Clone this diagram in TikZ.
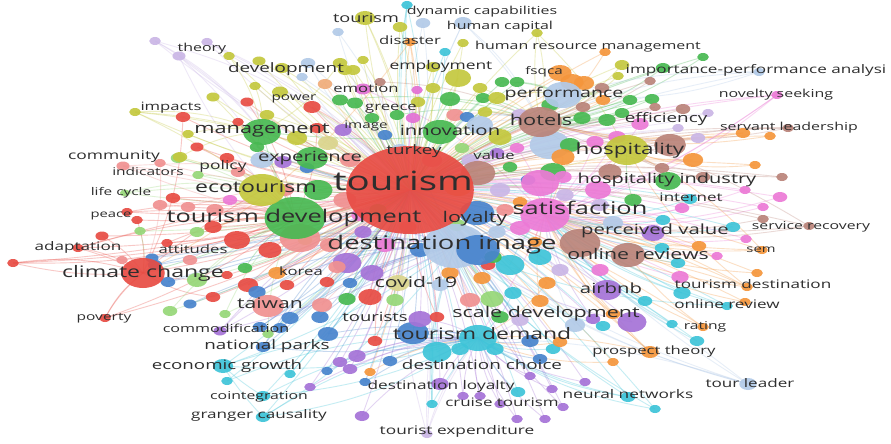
\documentclass[tikz,border=0pt]{standalone}
\usepackage{fontspec}
\setmainfont{Open Sans}
\definecolor{vr}{RGB}{232,76,68}
\definecolor{vlr}{RGB}{240,145,145}
\definecolor{vg}{RGB}{72,185,82}
\definecolor{vlg}{RGB}{150,215,120}
\definecolor{vb}{RGB}{72,132,205}
\definecolor{vlb}{RGB}{178,202,232}
\definecolor{vo}{RGB}{196,200,62}
\definecolor{vlo}{RGB}{218,212,140}
\definecolor{vp}{RGB}{165,115,215}
\definecolor{vla}{RGB}{202,182,230}
\definecolor{vc}{RGB}{62,196,216}
\definecolor{vor}{RGB}{245,150,60}
\definecolor{vbr}{RGB}{186,132,122}
\definecolor{vpk}{RGB}{236,122,214}
\definecolor{vm}{RGB}{226,112,212}
\definecolor{vpe}{RGB}{240,172,122}
\tikzset{
	lnk/.style={draw=#1, draw opacity=.3, line width=.9pt},
	bub/.style={fill=#1, fill opacity=.92},
	lbl/.style={text=black!82, inner sep=0pt, anchor=mid, xscale=1.45},
}
\newcommand\fsz[1]{\fontsize{#1}{#1}\selectfont}
\newcommand\bubdata{
	thA/155/41/4/vla/M, thB/207/42/4/vla/T, thC/179/56/4.5/vla/TD,
	b1/229/56/4/vo/M, b2/259/61/4.5/vo/T, b3/282/68/5/vo/T, b4/255/86/4/vo/M, b5/280/92/5.5/vo/T,
	b6/213/97/4.5/vo/TD, b7/247/102/4.5/vr/TD, imp/135/112/4/vo/M, b8/183/117/5/vr/CC, b9/238/122/4/vr/TD,
	b10/267/115/5/vo/T, b11/188/134/4/vo/M, b12/197/147/4.5/vr/TD, b13/308/63/5/vlb/T, b14/302/77/4/vlb/T,
	b15/325/84/5/vpe/T, b16/345/70/5/vo/T, b17/312/107/6/vr/T, b18/340/100/5.5/vg/H, b19/355/103/5.5/vg/T,
	b20/363/89/5.5/vm/S, b21/380/82/4/vbr/H, b22/297/138/7/vo/T, b23/317/128/5/vr/TD, b24/343/130/6/vp/DI,
	b25/385/135/5/vb/DI, b26/397/115/5/vg/H, b27/328/143/7/vlo/T, b28/178/158/5/vlg/TD, b29/257/147/5/vg/M,
	b30/283/162/6/vp/T, b31/307/168/5/vb/DI, b32/227/158/5/vr/TD, b33/238/172/5/vlr/TD, b34/198/175/4/vlg/EC,
	comm/123/166/4.5/vlr/TD, b36/160/163/4/vlr/CC, b37/180/157/5/vo/M, lifec/125/193/3.5/vlg/EC,
	b40/173/198/5/vr/TD, b41/160/205/5/vlr/TD, b42/188/207/5/vlr/T, peace/127/212/4/vr/TD, b43/137/220/4/vr/CC,
	b44/140/231/4/vlg/CC, b45/102/236/4.5/vr/CC, adp/78/248/4/vr/CC, adE/13/263/4/vr/CC, b46/122/260/4/vlr/CC,
	b47/167/243/4/vr/TD, b48/197/232/5/vlg/TD, b49/213/227/6/vr/TD, b50/237/240/9/vr/T, b51/270/250/8/vr/T,
	b52/152/258/4.5/vb/DI, b53/190/260/5/vlr/TD, b54/168/282/5/vb/DI, b55/197/280/7/vlg/TD, b56/245/268/5/vg/TD,
	b57/248/285/7/vr/T, b58/227/275/4/vr/CC, b59/277/273/6/vor/T, b60/287/285/5/vr/T, b61/213/297/5/vr/CC,
	pov/105/318/4/vr/CC, b63/190/304/4.5/vb/DI, b64/170/311/5/vlg/TD, b65/225/314/4/vlg/TD, commod/220/331/4.5/vp/T,
	b66/268/334/4/vlg/TD, b67/260/327/5/vb/DI, natp/263/347/5/vb/T, econ/223/366/7/vc/TDM, b68/227/381/4/vc/TDM,
	coint/263/396/5/vc/TDM, grang/263/417/5/vc/TDM, b69/290/374/4/vc/DI, b70/257/292/6/vb/DI, b71/290/318/6/vb/DI,
	b72/320/317/6/vb/DI, b74/322/305/7/vlr/T, b75/280/328/5/vb/DI, b76/155/265/5/vb/DI,
	b77/363/232/6/vp/DI, b78/347/263/10/vp/DI, b79/372/273/8/vp/DI, b80/327/282/5/vr/T, b81/370/297/8/vr/T,
	b82/337/267/6/vlr/T, b83/350/283/5/vb/DI, b84/318/190/10/vg/T, b86/305/240/5/vo/TD, b87/378/210/6/vg/T,
	b88/408/227/6/vlr/T, b89/420/250/7/vb/DI, b90/450/273/6/vor/DI, b91/482/278/6/vor/DI, b92/488/265/5/vr/T,
	b93/510/265/10/vc/S, b94/497/232/6/vlb/DI, b95/540/257/8/vc/S, b96/535/242/5/vor/S, b97/520/202/5/vor/S,
	b98/528/180/5/vb/S, b99/497/153/5/vp/T, b100/547/283/6/vor/TDM, b101/513/293/6/vc/TDM, b102/493/257/6/vg/DI,
	b103/457/225/6/vlg/DI,
	f1/350/160/7/vlr/T, f2/345/200/8/vlr/TD, f3/385/245/7/vpk/DI, f4/400/150/6/vlb/T, f5/432/160/7/vlr/T,
	f6/470/160/6/vla/H, f7/500/190/7/vla/S, f8/520/228/7/vpk/S, f9/565/195/6/vla/S, f10/505/210/6/vlr/S,
	f11/330/245/7/vlr/TD, f12/360/215/6/vpk/T, f13/440/285/6/vlb/DI, f14/470/300/7/vlr/DI, f15/520/320/6/vla/TDM,
	f16/575/325/7/vlb/S, f17/600/270/6/vpk/S, f18/560/270/6/vla/S, f19/395/300/6/vlg/T, f20/455/115/6/vlr/H,
	f21/520/115/6/vla/H, f22/600/205/6/vla/S, f23/215/210/6/vlr/TD, f24/230/200/5/vpk/TD, f25/285/190/6/vlr/EC,
	b105/347/299/6/vg/T, b107/328/334/7/vb/TDM, b108/357/356/6/vp/TDM, b109/413/333/11/vb/TDM, b110/437/352/10/vc/TDM,
	b111/420/319/8/vp/TDM, b112/437/317/5/vr/T, b113/375/341/5/vr/T, b114/492/299/8/vlg/DI, b115/500/317/6/vg/DI,
	b116/495/349/6/vc/TDM, b117/460/349/6/vc/TDM, b118/530/341/6/vb/TDM, b119/553/349/5/vc/TDM, b120/540/359/5/vb/TDM,
	b121/560/342/5/vor/TDM, b122/540/301/6/vor/S, b123/370/372/4/vor/TDM, b124/390/361/5/vb/TDM, b125/340/362/5/vp/TDM,
	b126/350/369/5/vp/TDM, b127/327/371/4/vb/TDM, b128/365/382/4/vb/TDM, b129/440/384/6/vp/TDM, b130/463/396/4/vp/TDM,
	cruise/432/404/4/vc/DI, b131/480/396/4/vp/TDM, b132/500/404/4/vp/TDM, b133/530/376/4/vp/TDM, b134/518/392/5/vc/TDM,
	b135/552/389/4/vp/TDM, b136/563/407/4/vp/DI, b137/517/419/4/vp/TDM, b138/545/419/4/vp/TDM, b139/362/416/5/vp/TDM,
	texp/427/434/4/vla/TDM, b140/310/387/4/vp/TDM, b141/585/382/4/vp/TDM, b142/593/319/5/vp/S,
	scd/632/322/10/vp/DI, b143/603/326/5/vc/DI, b144/613/314/5/vor/S, b145/645/301/5/vc/S, b146/672/324/4/vc/S,
	onrevB/727/306/4/vc/S, b147/745/302/4/vor/S, rating/703/327/4/vor/S, b148/697/341/5/vc/S, pt/650/352/6/vor/S,
	b149/613/362/4/vor/TDM, tl/748/384/6/vlb/T, nn/628/397/5/vc/TDM, nnB/655/409/4/vc/TDM,
	b150/693/160/7/vor/HO, b151/755/165/4/vor/HO, b152/782/177/4/vbr/H, b153/662/168/5/vbr/HO, b154/703/177/5/vbr/HO,
	b155/745/190/4/vpk/S, b156/780/197/5/vpk/S, b157/763/207/4/vpk/S, b158/690/199/5/vc/S, b159/633/200/6/vg/HO,
	b160/682/208/5/vpk/S, b161/663/220/5/vc/S, b162/763/219/4/vbr/S, srec/809/226/4/vbr/S, b163/733/227/5/vc/S,
	b164/746/239/4/vpk/S, b165/699/246/5/vor/S, sem/762/250/4/vor/S, b166/653/233/8/vp/S, b167/717/256/4/vpk/S,
	b168/662/248/5/vc/S, b169/678/263/5/vc/S, b170/680/277/6/vpk/S, b171/682/293/6/vc/S, b172/757/273/4/vor/S,
	tdest/747/287/4/vor/S, airb/607/290/10/vp/S, b173/613/223/7/vlb/S,
	b174/703/57/4/vg/H, b175/605/52/4/vor/H, b176/622/65/5/vo/H, b177/618/76/4/vo/H, b178/663/68/5/vg/H,
	ipa/759/72/4/vlb/P, b179/650/81/4/vbr/H, b180/602/88/5/vbr/H, nov/777/95/4/vpk/S, b181/630/100/5/vg/H,
	b182/652/99/5/vg/H, b183/603/100/5/vor/H, b184/655/107/4/vbr/H, b185/683/109/5/vbr/H, b186/708/113/4/vla/H,
	b187/622/113/5/vg/H, b188/640/124/6/vpk/S, b189/678/128/4/vla/H, b190/698/138/5/vla/H, servO/743/133/5/vor/H,
	b191/770/136/4/vor/H, serv/788/128/4/vbr/H, b192/617/137/6/vpk/S, b193/670/145/11/vbr/HO,
	dyn/407/5/4/vc/T, topT/365/18/7/vo/T, b194/400/27/5/vo/T, b195/338/32/4/vlb/T, b196/423/23/5/vlb/T,
	hcap/463/23/6/vlb/H, hrm/537/33/4/vo/H, b197/463/43/4/vo/T, b198/445/52/4/vc/T, dis/410/42/4/vor/T,
	b200/340/63/5/vo/M, b201/363/60/4/vo/T, b202/353/70/5/vo/T, b203/433/67/5/vo/T, b204/458/78/9/vo/T,
	b205/480/88/5/vo/H, b207/433/88/5/vo/T, b208/417/90/4/vm/T, b210/450/99/7/vg/H, b211/483/98/5/vg/H,
	b212/418/102/5/vo/T, b213/413/118/5/vm/T, b214/467/117/5/vb/H, b215/485/112/5/vo/H, b216/372/118/5/vg/T,
	b218/480/125/9/vlb/H, b219/500/137/8/vo/H, b220/560/73/8/vor/P, b221/572/82/8/vor/P, b222/584/83/7/vor/P,
	b224/502/82/5/vg/P, b225/517/82/5/vg/P, b226/497/98/6/vo/P, b227/583/107/5/vbr/H, b228/550/105/6/vg/H,
	b231/582/118/6/vg/H, b232/607/120/6/vg/H, b234/550/145/14/vlb/H, b235/570/145/7/vg/H, b236/595/142/6/vpk/S,
	b237/517/148/5/vpk/S, b238/563/157/8/vor/S, b239/553/172/9/vg/S, b240/478/173/12/vbr/T, b241/458/186/10/vor/T,
	b242/510/167/5/vg/T, b243/540/183/13/vpk/S, b244/610/172/8/vbr/HO, b245/598/190/9/vpk/S, b246/563/177/6/vpk/S,
	b247/462/148/5/vlg/T}

\begin{document}
\begin{tikzpicture}[x=1pt,y=-1pt]
	\useasboundingbox (0,0) rectangle (891,444);
	\fill[white] (0,0) rectangle (891,444);
	\coordinate (T) at (410,190);
	\coordinate (DI) at (455,246);
	\coordinate (TD) at (295,218);
	\coordinate (S) at (545,215);
	\coordinate (CC) at (143,273);
	\coordinate (M) at (262,132);
	\coordinate (EC) at (262,190);
	\coordinate (H) at (540,122);
	\coordinate (HO) at (627,150);
	\coordinate (P) at (563,95);
	\coordinate (TDM) at (478,338);
	\coordinate (OR) at (628,255);
	\foreach \n/\x/\y/\r/\c/\h in \bubdata {
		\coordinate (\n) at (\x,\y);
		\draw[lnk=\c] (\n) to[bend left=12] (\h);
		\draw[lnk=\c] (\n) to[bend right=8] (T);
	}
	\foreach \a/\b/\c/\bd in {
		thA/M/vla/10, thA/T/vla/15, thB/T/vla/10, thC/TD/vla/-10, thB/DI/vla/10,
		imp/TD/vo/8, imp/T/vo/10, imp/M/vo/5,
		adE/CC/vr/-8, adE/TD/vr/-10, adE/T/vr/-6, adp/CC/vr/5, adp/TD/vr/8, adp/T/vr/6,
		pov/CC/vr/10, pov/TD/vr/-8, peace/TD/vr/5, lifec/EC/vlg/5, comm/T/vlr/8, comm/TD/vlr/-5,
		econ/TDM/vc/-10, econ/DI/vc/-8, coint/TDM/vc/-10, grang/TDM/vc/-12, coint/econ/vc/5, grang/econ/vc/5,
		grang/DI/vc/-10, natp/T/vb/8, natp/TDM/vb/-8, commod/T/vp/8, commod/DI/vp/-6,
		texp/TDM/vla/8, texp/DI/vla/10, texp/T/vla/12, cruise/DI/vc/10, cruise/TDM/vc/5,
		nn/TDM/vc/10, nn/DI/vc/8, nnB/T/vc/12,
		tl/T/vlb/15, tl/DI/vlb/10, tl/S/vlb/8, tl/TDM/vlb/-8,
		rating/OR/vor/8, onrevB/S/vc/8, onrevB/DI/vc/10, pt/TDM/vor/-8, pt/S/vor/8,
		tdest/HO/vor/10, tdest/DI/vor/-10, tdest/T/vor/-12, sem/S/vor/8, sem/HO/vor/-10,
		srec/S/vbr/8, srec/H/vbr/-10, servO/H/vor/10, serv/HO/vbr/-8, serv/T/vbr/-10,
		nov/DI/vpk/10, nov/S/vpk/8, nov/T/vpk/-10, ipa/P/vlb/-8, ipa/H/vlb/-10,
		topT/T/vo/10, dyn/T/vc/-10, dyn/DI/vc/-15, hcap/H/vlb/8, hcap/T/vlb/-8, dis/T/vor/8, dis/CC/vor/12,
		hrm/H/vo/-8, hrm/HO/vo/8,
		T/DI/vr/5, T/TD/vr/5, T/S/vr/-5, T/H/vr/5, T/M/vr/-5, T/CC/vr/8, T/TDM/vr/5, DI/S/vb/5, DI/TDM/vb/-5,
		H/HO/vbr/5, H/P/vbr/5, S/HO/vpk/5, TD/CC/vg/5, M/TD/vg/-5, EC/TD/vo/5, CC/EC/vr/5, HO/T/vo/5,
		P/T/vlb/5, S/TDM/vpk/5, M/H/vg/-8}
		\draw[lnk=\c] (\a) to[bend left=\bd] (\b);
	\foreach \n/\x/\y/\r/\c/\h in \bubdata
		\fill[bub=\c] (\n) ellipse [x radius=1.45*\r, y radius=\r];
	\fill[bub=vlr] (300,238) ellipse [x radius=1.45*14, y radius=14];
	\fill[bub=vg] (TD) ellipse [x radius=1.45*21, y radius=21];
	\fill[bub=vr] (CC) ellipse [x radius=1.45*15, y radius=15];
	\fill[bub=vg] (M) ellipse [x radius=1.45*13, y radius=13];
	\fill[bub=vo] (EC) ellipse [x radius=1.45*16, y radius=16];
	\fill[bub=vlb] (262,160) ellipse [x radius=1.45*8, y radius=8];
	\fill[bub=vg] (312,158) ellipse [x radius=1.45*11, y radius=11];
	\fill[bub=vg] (440,132) ellipse [x radius=1.45*12, y radius=12];
	\fill[bub=vbr] (H) ellipse [x radius=1.45*15, y radius=15];
	\fill[bub=vlb] (P) ellipse [x radius=1.45*13, y radius=13];
	\fill[bub=vo] (HO) ellipse [x radius=1.45*15, y radius=15];
	\fill[bub=vg] (668,181) ellipse [x radius=1.45*9, y radius=9];
	\fill[bub=vpk] (S) ellipse [x radius=1.45*17, y radius=17];
	\fill[bub=vb] (477,213) ellipse [x radius=1.45*12, y radius=12];
	\fill[bub=vbr] (580,243) ellipse [x radius=1.45*14, y radius=14];
	\fill[bub=vbr] (OR) ellipse [x radius=1.45*12, y radius=12];
	\fill[bub=vlo] (398,283) ellipse [x radius=1.45*8, y radius=8];
	\fill[bub=vlr] (268,306) ellipse [x radius=1.45*11, y radius=11];
	\fill[bub=vlb] (DI) ellipse [x radius=1.45*22, y radius=22];
	\fill[bub=vb] (478,250) ellipse [x radius=1.45*15, y radius=15];
	\fill[bub=vc] (TDM) ellipse [x radius=1.45*13, y radius=13];
	\fill[bub=vr] (T) ellipse [x radius=1.45*44, y radius=44];
	\node[lbl, font=\fsz{11}] (lTheory) at (202,49) {theory};
	\node[lbl, font=\fsz{13}] (lDevelopment) at (286,70) {development};
	\node[lbl, font=\fsz{11.5}] (lImpacts) at (171,108) {impacts};
	\node[lbl, font=\fsz{10.5}] (lPower) at (294,98) {power};
	\node[lbl, font=\fsz{15}] (lManagement) at (262,131) {management};
	\node[lbl, font=\fsz{11.5}] (lEmotion) at (366,90) {emotion};
	\node[lbl, font=\fsz{11.5}] (lGreece) at (391,108) {greece};
	\node[lbl, font=\fsz{10.5}] (lImage) at (366,126) {image};
	\node[lbl, font=\fsz{14}] (lInnovation) at (450,133) {innovation};
	\node[lbl, font=\fsz{12.5}] (lTourismTop) at (366,20) {tourism};
	\node[lbl, font=\fsz{11}] (lDynamic) at (482,12) {dynamic capabilities};
	\node[lbl, font=\fsz{11}] (lHumanCap) at (500,27) {human capital};
	\node[lbl, font=\fsz{11.5}] (lDisaster) at (410,42) {disaster};
	\node[lbl, font=\fsz{11}] (lHrm) at (588,47) {human resource management};
	\node[lbl, font=\fsz{12}] (lEmployment) at (441,67) {employment};
	\node[lbl, font=\fsz{10.5}] (lFsqca) at (544,72) {fsqca};
	\node[lbl, font=\fsz{13.5}] (lPerformance) at (564,95) {performance};
	\node[lbl, font=\fsz{15}] (lHotels) at (541,123) {hotels};
	\node[lbl, font=\fsz{13}] (lEfficiency) at (666,120) {efficiency};
	\node[lbl, font=\fsz{15.5}] (lHospitality) at (630,152) {hospitality};
	\node[lbl, font=\fsz{13.8}] (lHospInd) at (667,181) {hospitality industry};
	\node[lbl, font=\fsz{11.8}] (lIpa) at (756,71) {importance-performance analysi};
	\node[lbl, font=\fsz{11}] (lNovelty) at (776,95) {novelty seeking};
	\node[lbl, font=\fsz{11}] (lServant) at (789,128) {servant leadership};
	\node[lbl, font=\fsz{11.4}] (lValue) at (494,157) {value};
	\node[lbl, font=\fsz{13}] (lTurkey) at (414,152) {turkey};
	\node[lbl, font=\fsz{14}] (lExperience) at (310,159) {experience};
	\node[lbl, font=\fsz{12}] (lPolicy) at (223,167) {policy};
	\node[lbl, font=\fsz{12}] (lCommunity) at (114,157) {community};
	\node[lbl, font=\fsz{10.7}] (lIndicators) at (148,173) {indicators};
	\node[lbl, font=\fsz{10.6}] (lLifeCycle) at (121,193) {life cycle};
	\node[lbl, font=\fsz{10.2}] (lPeace) at (111,215) {peace};
	\node[lbl, font=\fsz{11.8}] (lAdaptation) at (78,248) {adaptation};
	\node[lbl, font=\fsz{15.9}] (lEcotourism) at (256,190) {ecotourism};
	\node[lbl, font=\fsz{17.5}] (lTourDev) at (294,220) {tourism development};
	\node[lbl, font=\fsz{11.5}] (lAttitudes) at (193,251) {attitudes};
	\node[lbl, font=\fsz{15.9}] (lClimate) at (143,275) {climate change};
	\node[lbl, font=\fsz{11.5}] (lKorea) at (301,273) {korea};
	\node[lbl, font=\fsz{14.6}] (lTaiwan) at (270,306) {taiwan};
	\node[lbl, font=\fsz{11.1}] (lCommod) at (226,330) {commodification};
	\node[lbl, font=\fsz{12.7}] (lTourists) at (375,319) {tourists};
	\node[lbl, font=\fsz{14.6}] (lCovid) at (416,285) {covid-19};
	\node[lbl, font=\fsz{14.8}] (lLoyalty) at (475,220) {loyalty};
	\node[lbl, font=\fsz{18.9}] (lDestImage) at (442,247) {destination image};
	\node[lbl, font=\fsz{26.5}] (lTourism) at (403,188) {tourism};
	\node[lbl, font=\fsz{17.5}] (lSatisfaction) at (580,212) {satisfaction};
	\node[lbl, font=\fsz{14}] (lPercValue) at (655,232) {perceived value};
	\node[lbl, font=\fsz{14.7}] (lOnlineRevs) at (638,257) {online reviews};
	\node[lbl, font=\fsz{11.7}] (lInternet) at (691,199) {internet};
	\node[lbl, font=\fsz{10.9}] (lServRec) at (811,227) {service recovery};
	\node[lbl, font=\fsz{10.2}] (lSem) at (761,250) {sem};
	\node[lbl, font=\fsz{11.8}] (lTourDest) at (753,286) {tourism destination};
	\node[lbl, font=\fsz{14}] (lAirbnb) at (611,291) {airbnb};
	\node[lbl, font=\fsz{14.8}] (lScaleDev) at (546,315) {scale development};
	\node[lbl, font=\fsz{15.8}] (lTourDemand) at (482,337) {tourism demand};
	\node[lbl, font=\fsz{13}] (lNatParks) at (267,347) {national parks};
	\node[lbl, font=\fsz{12.9}] (lEconGrowth) at (227,367) {economic growth};
	\node[lbl, font=\fsz{10.9}] (lCoint) at (259,397) {cointegration};
	\node[lbl, font=\fsz{11.8}] (lGranger) at (259,416) {granger causality};
	\node[lbl, font=\fsz{10.7}] (lPoverty) at (104,318) {poverty};
	\node[lbl, font=\fsz{13}] (lDestChoice) at (482,367) {destination choice};
	\node[lbl, font=\fsz{11.9}] (lDestLoyalty) at (441,387) {destination loyalty};
	\node[lbl, font=\fsz{11.7}] (lCruise) at (502,404) {cruise tourism};
	\node[lbl, font=\fsz{11.9}] (lNeural) at (628,396) {neural networks};
	\node[lbl, font=\fsz{11.9}] (lTourExp) at (457,432) {tourist expenditure};
	\node[lbl, font=\fsz{11.8}] (lOnlineRev) at (727,306) {online review};
	\node[lbl, font=\fsz{10.8}] (lRating) at (705,327) {rating};
	\node[lbl, font=\fsz{11.5}] (lProspect) at (654,352) {prospect theory};
	\node[lbl, font=\fsz{11.8}] (lTourLeader) at (750,385) {tour leader};
\end{tikzpicture}
\end{document}
